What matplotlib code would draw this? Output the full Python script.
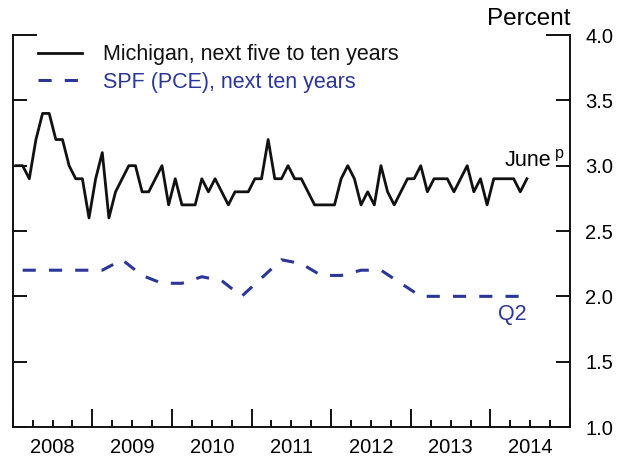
import matplotlib
matplotlib.use("Agg")
import matplotlib.pyplot as plt
import numpy as np

plt.rcParams["font.family"] = ["Liberation Sans", "DejaVu Sans"]

# Michigan survey, monthly Jan 2008 - Jun 2014
michigan = [3.0, 3.0, 2.9, 3.2, 3.4, 3.4, 3.2, 3.2, 3.0, 2.9, 2.9, 2.6,
            2.9, 3.1, 2.6, 2.8, 2.9, 3.0, 3.0, 2.8, 2.8, 2.9, 3.0, 2.7,
            2.9, 2.7, 2.7, 2.7, 2.9, 2.8, 2.9, 2.8, 2.7, 2.8, 2.8, 2.8,
            2.9, 2.9, 3.2, 2.9, 2.9, 3.0, 2.9, 2.9, 2.8, 2.7, 2.7, 2.7,
            2.7, 2.9, 3.0, 2.9, 2.7, 2.8, 2.7, 3.0, 2.8, 2.7, 2.8, 2.9,
            2.9, 3.0, 2.8, 2.9, 2.9, 2.9, 2.8, 2.9, 3.0, 2.8, 2.9, 2.7,
            2.9, 2.9, 2.9, 2.9, 2.8, 2.9]

# SPF (PCE), quarterly 2008Q1 - 2014Q2
spf = [2.2, 2.2, 2.2, 2.2, 2.2, 2.28, 2.16, 2.1, 2.1, 2.15, 2.12, 2.0,
       2.14, 2.28, 2.25, 2.16, 2.16, 2.2, 2.2, 2.1, 2.0, 2.0, 2.0, 2.0,
       2.0, 2.0]

years = [2008, 2009, 2010, 2011, 2012, 2013, 2014]
yticks = [1.0, 1.5, 2.0, 2.5, 3.0, 3.5, 4.0]

blue = "#2b3699"
ink = "#111111"

x_mich = 2008 + (np.arange(len(michigan)) + 0.5) / 12
x_spf = 2008 + (np.arange(len(spf)) + 0.5) / 4

fig = plt.figure(figsize=(6.23, 4.59), dpi=100)
ax = fig.add_axes([0.0204, 0.0697, 0.8946, 0.854])

ax.plot(x_mich, michigan, color=ink, lw=2.0,
        label="Michigan, next five to ten years")
ax.plot(x_spf, spf, color=blue, lw=2.2, linestyle=(0, (4.3, 4.3)),
        label="SPF (PCE), next ten years")

ax.set_xlim(2008, 2015)
ax.set_ylim(1.0, 4.0)

ax.spines["top"].set_visible(False)
for s in ["left", "right", "bottom"]:
    ax.spines[s].set_linewidth(1.4)
    ax.spines[s].set_color(ink)

ax.set_yticks(yticks)
ax.set_yticklabels([f"{v:.1f}" for v in yticks])
ax.tick_params(axis="y", direction="in", length=10, width=1.4,
               left=True, right=True, labelleft=False, labelright=True,
               labelsize=14.5, pad=11, color=ink)

ax.set_xticks(range(2008, 2016))
ax.set_xticks(np.arange(2008, 2015.01, 0.25), minor=True)
ax.tick_params(axis="x", which="major", direction="in", length=13,
               width=1.4, labelbottom=False, color=ink)
ax.tick_params(axis="x", which="minor", direction="in", length=5,
               width=1.4, color=ink)

# longer tick at 4.0 on both sides
top_tick = ax.yaxis.get_major_ticks()[-1]
top_tick.tick1line.set_markersize(17)
top_tick.tick2line.set_markersize(17)

for yr in years:
    ax.text(yr + 0.5, -0.027, str(yr), transform=ax.get_xaxis_transform(),
            ha="center", va="top", fontsize=14.5)

ax.text(1.0, 1.0255, "Percent", transform=ax.transAxes, ha="right",
        va="baseline", fontsize=17.5)

ax.text(2014.18, 3.0, "June", ha="left", va="baseline", fontsize=15.5)
ax.text(2014.81, 3.055, "p", ha="left", va="baseline", fontsize=11.5)
ax.text(2014.27, 1.86, "Q2", ha="center", va="center", fontsize=15.5,
        color=blue)

leg = ax.legend(loc="upper left", bbox_to_anchor=(0.0454, 0.976),
                frameon=False, fontsize=15.5, handlelength=2.05,
                handletextpad=0.98, labelspacing=0.29, borderaxespad=0,
                borderpad=0)
for txt, c in zip(leg.get_texts(), [ink, blue]):
    txt.set_color(c)

fig.savefig("out.png", dpi=100)
